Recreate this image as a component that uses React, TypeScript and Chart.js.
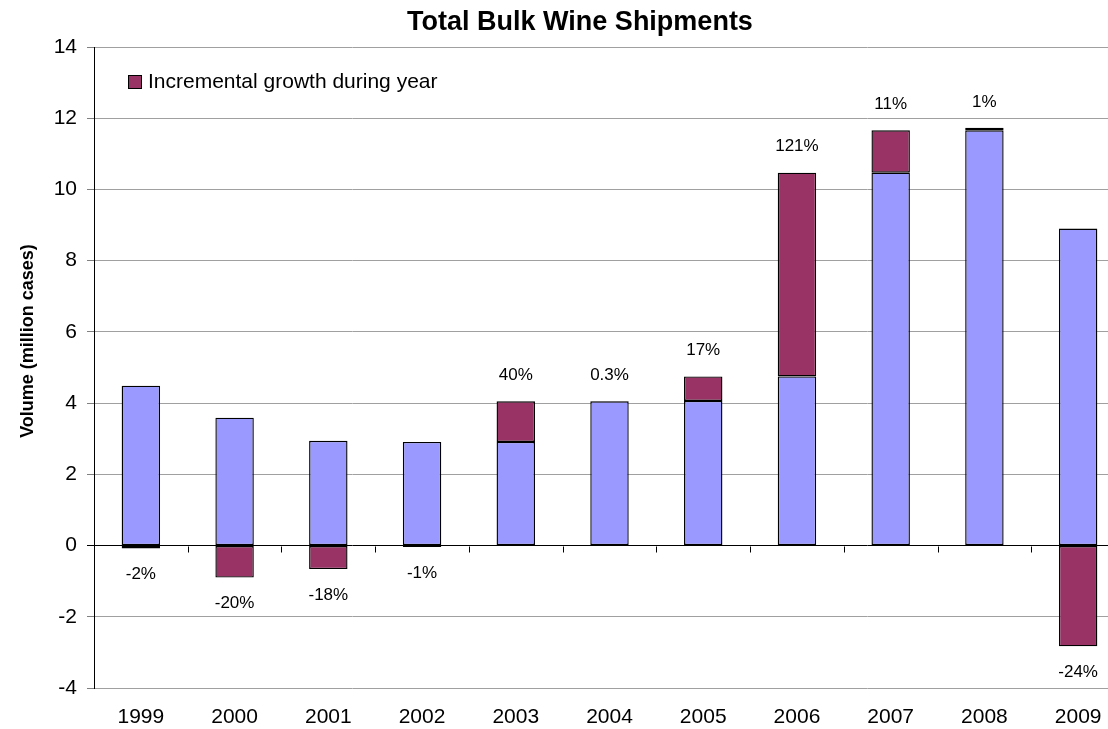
import React, { useEffect, useRef } from "react";
import { Chart, registerables } from "chart.js";

Chart.register(...registerables);

const years = ["1999", "2000", "2001", "2002", "2003", "2004", "2005", "2006", "2007", "2008", "2009"];
const baseVolume = [4.49, 3.59, 2.94, 2.91, 2.91, 4.05, 4.06, 4.75, 10.47, 11.66, 8.9];
const growth = [-0.08, -0.9, -0.66, -0.04, 1.14, 0.01, 0.69, 5.72, 1.19, 0.07, -2.83];
const growthLabels = ["-2%", "-20%", "-18%", "-1%", "40%", "0.3%", "17%", "121%", "11%", "1%", "-24%"];
const yTicks = [-4, -2, 0, 2, 4, 6, 8, 10, 12, 14];
const chartTitle = "Total Bulk Wine Shipments";
const yTitle = "Volume (million cases)";
const legendLabel = "Incremental growth during year";

const FONT = "'Liberation Sans', Arial, sans-serif";
const BASE_COLOR = "#9999FF";
const GROWTH_COLOR = "#993366";

const decorPlugin = {
  id: "decor",
  afterDatasetsDraw(chart: any) {
    const { ctx, chartArea, scales } = chart;
    const x = scales.x;
    const y = scales.y;
    ctx.save();
    // tick marks along the zero line between categories
    const zeroY = Math.round(y.getPixelForValue(0)) + 0.5;
    const n = years.length;
    const cw = (chartArea.right - chartArea.left) / n;
    ctx.strokeStyle = "#000";
    ctx.lineWidth = 1;
    ctx.beginPath();
    for (let k = 1; k <= n; k++) {
      const px = Math.round(chartArea.left + k * cw) + 0.5;
      ctx.moveTo(px, zeroY);
      ctx.lineTo(px, zeroY + 6);
    }
    ctx.stroke();

    // data labels
    ctx.fillStyle = "#000";
    ctx.font = `17px ${FONT}`;
    ctx.textAlign = "center";
    ctx.textBaseline = "middle";
    for (let i = 0; i < n; i++) {
      const cx = x.getPixelForValue(i);
      const g = growth[i];
      if (g >= 0) {
        const top = y.getPixelForValue(baseVolume[i] + g);
        ctx.fillText(growthLabels[i], cx, top - 26);
      } else {
        const bottom = y.getPixelForValue(g);
        ctx.fillText(growthLabels[i], cx, bottom + 26);
      }
    }

    // legend
    ctx.fillStyle = GROWTH_COLOR;
    ctx.fillRect(128.5, 75.5, 13, 13);
    ctx.strokeStyle = "#000";
    ctx.strokeRect(128.5, 75.5, 13, 13);
    ctx.fillStyle = "#000";
    ctx.font = `21px ${FONT}`;
    ctx.textAlign = "left";
    ctx.fillText(legendLabel, 148, 82);

    // title
    ctx.font = `bold 27px ${FONT}`;
    ctx.textAlign = "center";
    ctx.fillText(chartTitle, 580, 23);

    // y axis title
    ctx.translate(28, 341);
    ctx.rotate(-Math.PI / 2);
    ctx.font = `bold 18px ${FONT}`;
    ctx.fillText(yTitle, 0, 0);
    ctx.restore();
  },
};

export default function App() {
  const canvasRef = useRef<HTMLCanvasElement | null>(null);

  useEffect(() => {
    if (!canvasRef.current) return;
    Chart.defaults.font.family = FONT;
    Chart.defaults.color = "#000";
    const chart = new Chart(canvasRef.current, {
      type: "bar",
      data: {
        labels: years,
        datasets: [
          {
            label: "Volume",
            data: baseVolume,
            backgroundColor: BASE_COLOR,
            borderColor: "#000",
            borderWidth: 1.4,
            borderSkipped: false,
          },
          {
            label: legendLabel,
            data: growth,
            backgroundColor: GROWTH_COLOR,
            borderColor: "#000",
            borderWidth: 1.4,
            borderSkipped: false,
          },
        ],
      },
      options: {
        responsive: false,
        animation: false,
        events: [],
        layout: { padding: { top: 47, left: 0, right: 5, bottom: 0 } },
        datasets: { bar: { barPercentage: 0.41, categoryPercentage: 1 } },
        plugins: {
          legend: { display: false },
          title: { display: false },
          tooltip: { enabled: false },
        },
        scales: {
          x: {
            stacked: true,
            grid: { display: false, drawTicks: false },
            border: { display: false },
            ticks: { font: { size: 21 }, color: "#000", padding: 17, maxRotation: 0 },
            afterFit: (s: any) => {
              s.height = 41;
            },
          },
          y: {
            stacked: true,
            min: -4,
            max: 14,
            afterBuildTicks: (s: any) => {
              s.ticks = yTicks.map((v) => ({ value: v }));
            },
            grid: {
              color: (c: any) => (c.tick && c.tick.value === 0 ? "#000" : "#a0a0a0"),
              tickLength: 7,
              tickColor: (c: any) => (c.tick && c.tick.value === 0 ? "#000" : "#808080"),
            },
            border: { display: true, color: "#000", width: 1 },
            ticks: { font: { size: 21 }, color: "#000", padding: 10 },
            afterFit: (s: any) => {
              s.width = 94;
            },
          },
        },
      },
      plugins: [decorPlugin],
    });
    return () => chart.destroy();
  }, []);

  return (
    <div style={{ position: "absolute", left: 0, top: 0, width: 1108, height: 729, overflow: "hidden", background: "#fff" }}>
      <canvas ref={canvasRef} width={1130} height={729} style={{ display: "block" }} />
    </div>
  );
}
